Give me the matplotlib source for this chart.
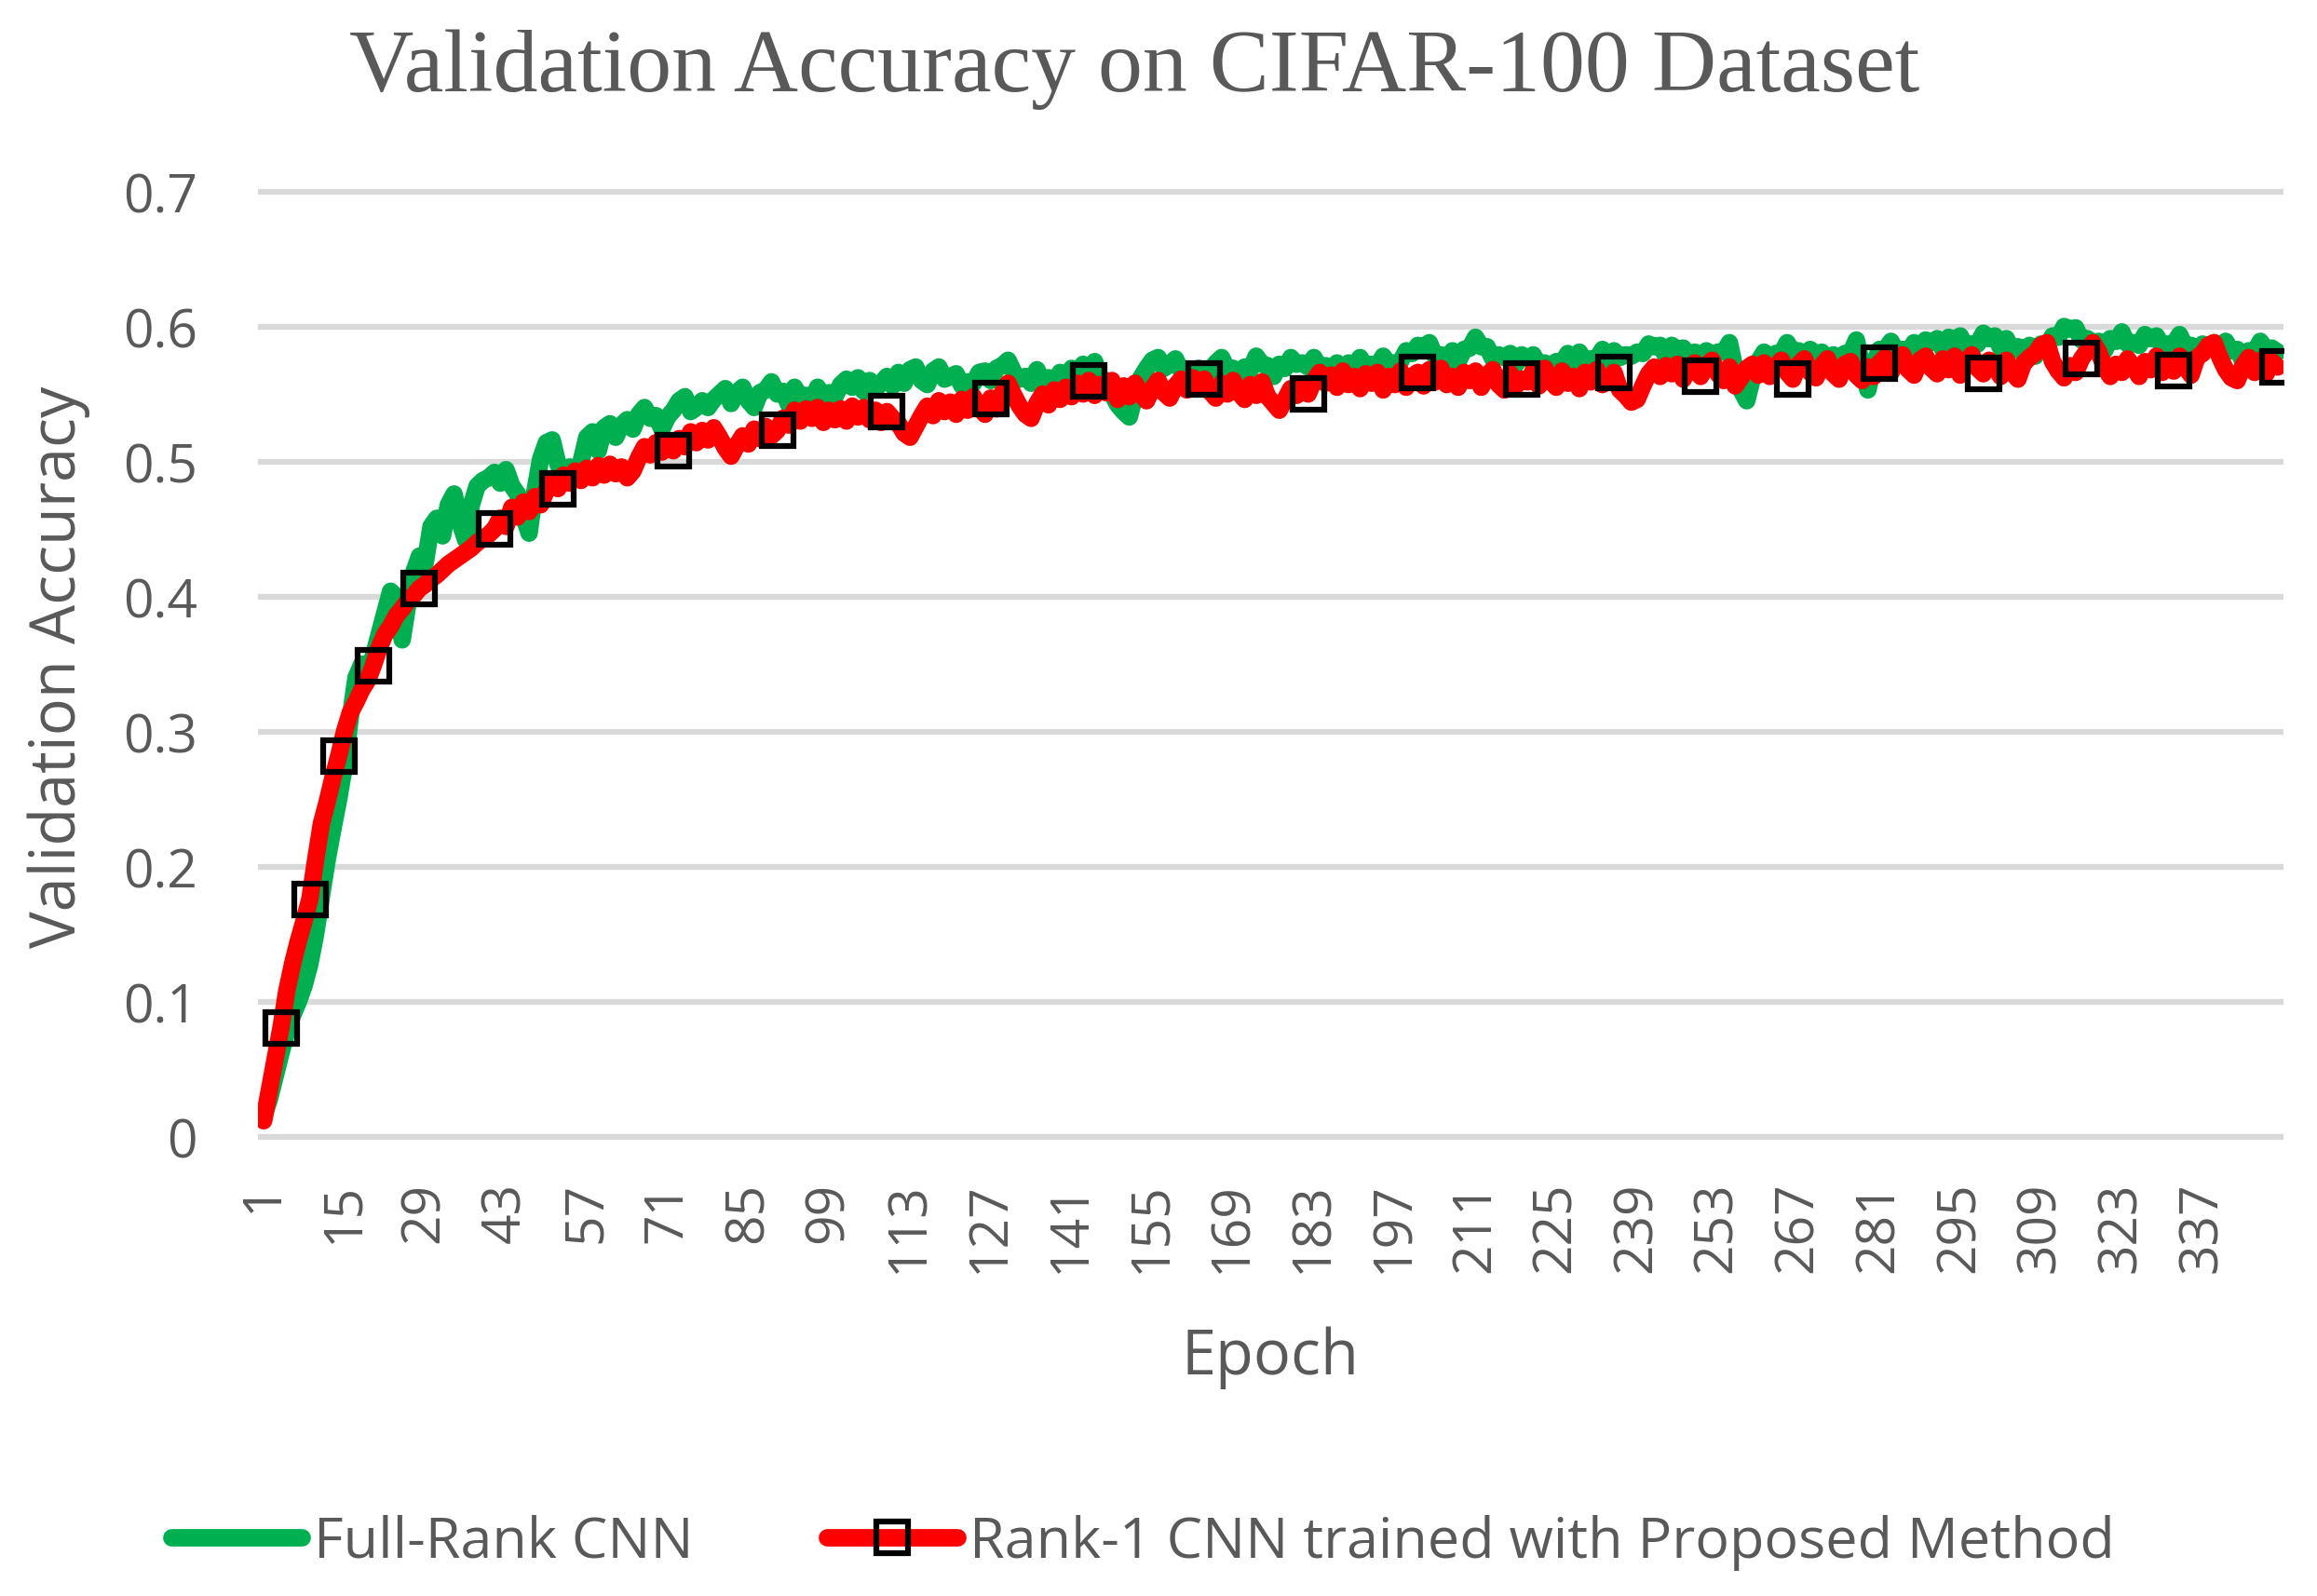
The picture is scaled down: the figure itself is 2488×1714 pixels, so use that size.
import matplotlib
matplotlib.use('Agg')
import matplotlib.pyplot as plt
import numpy as np

# validation accuracy per epoch
full_rank = [
    .015, .028, .045, .062, .078, .090, .100, .112, .128, .150,
    .178, .205, .228, .250, .275, .310, .340, .350, .345, .356,
    .372, .388, .404, .400, .368, .395, .418, .430, .425, .452,
    .458, .445, .468, .476, .455, .442, .468, .482, .486, .488,
    .492, .484, .494, .482, .476, .460, .447, .478, .502, .514,
    .516, .498, .490, .496, .488, .500, .518, .522, .508, .525,
    .528, .518, .527, .531, .524, .535, .540, .532, .534, .524,
    .533, .538, .545, .548, .537, .540, .545, .540, .546, .550,
    .554, .543, .551, .555, .545, .540, .551, .553, .559, .550,
    .552, .542, .555, .547, .549, .545, .555, .546, .551, .548,
    .557, .561, .555, .562, .552, .560, .554, .558, .563, .556,
    .566, .558, .568, .570, .560, .557, .567, .570, .561, .563,
    .565, .556, .559, .558, .566, .567, .560, .569, .571, .575,
    .566, .561, .563, .558, .568, .559, .562, .558, .566, .561,
    .569, .565, .572, .568, .574, .561, .560, .550, .542, .537,
    .533, .549, .562, .569, .575, .577, .569, .572, .576, .567,
    .568, .560, .569, .565, .567, .573, .577, .568, .569, .561,
    .570, .568, .578, .572, .571, .563, .572, .569, .577, .572,
    .573, .570, .577, .569, .571, .568, .573, .564, .573, .571,
    .577, .570, .572, .571, .578, .572, .573, .574, .582, .580,
    .586, .585, .588, .578, .579, .572, .582, .574, .583, .584,
    .592, .585, .585, .576, .579, .577, .580, .572, .579, .576,
    .579, .571, .573, .564, .574, .573, .580, .572, .581, .574,
    .576, .576, .583, .575, .582, .577, .579, .578, .581, .580,
    .587, .585, .586, .578, .586, .583, .584, .575, .581, .574,
    .582, .579, .581, .581, .588, .568, .553, .545, .562, .574,
    .581, .572, .580, .580, .588, .581, .582, .574, .583, .579,
    .581, .573, .579, .571, .580, .580, .590, .570, .553, .572,
    .583, .583, .589, .581, .583, .581, .588, .579, .590, .588,
    .591, .583, .592, .590, .593, .585, .587, .587, .595, .591,
    .593, .584, .591, .582, .585, .583, .586, .578, .587, .585,
    .593, .592, .600, .598, .599, .590, .591, .588, .589, .582,
    .591, .589, .596, .587, .588, .586, .594, .591, .593, .585,
    .587, .587, .594, .585, .586, .578, .587, .585, .588, .580,
    .589, .582, .583, .574, .582, .581, .589, .583, .584, .581,
]

rank1 = [
    .012, .035, .058, .081, .108, .128, .145, .160, .176, .205,
    .232, .248, .266, .282, .300, .314, .322, .331, .338, .349,
    .362, .372, .378, .386, .391, .397, .401, .406, .409, .413,
    .416, .420, .424, .427, .430, .433, .436, .440, .443, .446,
    .450, .458, .452, .466, .459, .470, .463, .474, .468, .479,
    .485, .480, .490, .484, .493, .486, .495, .488, .497, .490,
    .498, .491, .496, .488, .493, .503, .511, .505, .514, .507,
    .515, .508, .517, .511, .522, .514, .523, .516, .525, .518,
    .510, .504, .512, .519, .513, .524, .517, .526, .519, .523,
    .532, .527, .538, .530, .539, .532, .540, .529, .538, .531,
    .539, .530, .541, .533, .540, .531, .538, .529, .537, .532,
    .528, .521, .518, .526, .534, .541, .534, .545, .537, .544,
    .535, .546, .538, .548, .540, .535, .547, .539, .551, .558,
    .549, .541, .535, .532, .543, .550, .542, .553, .546, .555,
    .548, .558, .550, .560, .549, .557, .551, .560, .546, .556,
    .548, .558, .550, .545, .554, .560, .551, .547, .556, .561,
    .553, .562, .555, .561, .552, .547, .558, .550, .560, .551,
    .546, .557, .549, .559, .548, .543, .538, .546, .554, .549,
    .557, .550, .560, .566, .558, .564, .555, .567, .557, .563,
    .554, .565, .558, .566, .553, .563, .557, .567, .555, .563,
    .566, .556, .568, .559, .569, .557, .563, .555, .566, .560,
    .567, .555, .564, .568, .557, .553, .565, .556, .561, .559,
    .567, .556, .569, .560, .555, .567, .558, .563, .554, .566,
    .559, .568, .557, .561, .566, .553, .549, .544, .546, .556,
    .565, .570, .563, .571, .565, .572, .561, .569, .573, .563,
    .571, .575, .565, .560, .570, .556, .562, .569, .572, .564,
    .573, .563, .570, .575, .566, .561, .572, .576, .566, .562,
    .571, .576, .565, .561, .572, .574, .564, .560, .570, .563,
    .573, .577, .566, .574, .579, .568, .564, .575, .578, .569,
    .565, .576, .568, .578, .564, .574, .579, .569, .565, .575,
    .571, .563, .575, .566, .561, .573, .577, .580, .586, .588,
    .574, .567, .562, .571, .566, .576, .582, .588, .581, .570,
    .563, .572, .566, .576, .570, .563, .574, .568, .578, .566,
    .575, .567, .578, .570, .564, .577, .580, .586, .588, .577,
    .568, .562, .560, .571, .577, .566, .575, .565, .574, .570,
]

epochs = np.arange(1, len(rank1) + 1)
marker_epochs = [4, 9, 14, 20, 28, 41, 52, 72, 90, 109, 127, 144, 164,
                 182, 201, 219, 235, 250, 266, 281, 299, 316, 332, 350]
xtick_epochs = list(range(1, 350, 14))
ytick_vals = [0, 0.1, 0.2, 0.3, 0.4, 0.5, 0.6, 0.7]

txt_color = '#595959'
sans = ['Open Sans', 'DejaVu Sans']

fig = plt.figure(figsize=(24.88, 17.15), dpi=100)
ax = fig.add_axes([0.1113, 0.2832, 0.8742, 0.6006])

ax.plot(epochs, full_rank, color='#00B050', lw=13.5, solid_capstyle='round',
        solid_joinstyle='round', label='Full-Rank CNN', zorder=3)
ax.plot(epochs, rank1, color='#FF0000', lw=13.5, solid_capstyle='round',
        solid_joinstyle='round', marker='s', markersize=25,
        markerfacecolor='none', markeredgecolor='black', markeredgewidth=4.5,
        markevery=[e - 1 for e in marker_epochs],
        label='Rank-1 CNN trained with Proposed Method', zorder=4)

ax.set_xlim(0, 351)
ax.set_ylim(-0.005, 0.705)
ax.set_yticks(ytick_vals)
ax.set_yticklabels(['0', '0.1', '0.2', '0.3', '0.4', '0.5', '0.6', '0.7'])
ax.set_xticks(xtick_epochs)
ax.set_xticklabels([str(e) for e in xtick_epochs], rotation=90)
ax.grid(axis='y', color='#d9d9d9', lw=4.5, zorder=0)
ax.grid(axis='x', visible=False)
for s in ax.spines.values():
    s.set_visible(False)
ax.tick_params(axis='both', length=0, labelsize=41, labelcolor=txt_color)
ax.tick_params(axis='y', pad=47)
ax.tick_params(axis='x', pad=29)
for lab in ax.get_xticklabels() + ax.get_yticklabels():
    lab.set_family(sans)

fig.text(1218 / 2488, 1 - 98 / 1715, 'Validation Accuracy on CIFAR-100 Dataset',
         ha='center', va='baseline', fontsize=69, color=txt_color,
         family=['Liberation Serif', 'DejaVu Serif'])
fig.text(1364 / 2488, 1 - 1476 / 1715, 'Epoch', ha='center', va='baseline',
         fontsize=48, color=txt_color, family=sans)
fig.text(63 / 2488, 1 - 716 / 1715, 'Validation Accuracy', ha='center',
         va='center', rotation=90, fontsize=48, color=txt_color, family=sans)

leg = fig.legend(loc='center', bbox_to_anchor=(1227 / 2488, 1 - 1657 / 1715),
                 ncol=2, frameon=False, handlelength=2.3, handletextpad=0.2,
                 columnspacing=2.35, prop={'family': sans, 'size': 44})
for t in leg.get_texts():
    t.set_color(txt_color)

fig.savefig('out.png', dpi=100)
